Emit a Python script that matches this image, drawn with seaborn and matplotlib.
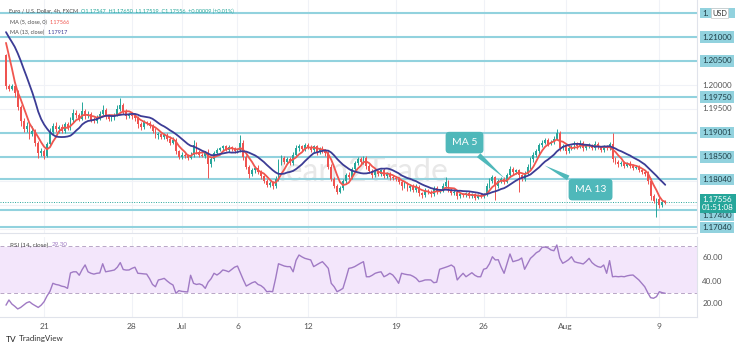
import numpy as np
import pandas as pd
import matplotlib
matplotlib.use("Agg")
import matplotlib.pyplot as plt
import matplotlib.transforms as mtransforms
from matplotlib.patches import Rectangle
import seaborn as sns

# ---------------- data (EUR/USD 4h) ----------------
pre_closes = [1.2172, 1.2165, 1.2178, 1.2170, 1.2160, 1.2150,
              1.2115, 1.2108, 1.2120, 1.2125, 1.2118, 1.2122,
              1.2130, 1.2125, 1.2118, 1.2128, 1.2122, 1.2126,
              1.2124, 1.2120, 1.2125, 1.2128, 1.2126, 1.2062]

closes = [
    1.1998,
    1.1992, 1.1997, 1.1984, 1.1955, 1.1925, 1.1908,   # Jun 17
    1.1915, 1.1898, 1.1905, 1.1880, 1.1858, 1.1862,   # Jun 18
    1.1852, 1.1878, 1.1902, 1.1915, 1.1908, 1.1912,   # Jun 21
    1.1905, 1.1918, 1.1910, 1.1928, 1.1942, 1.1938,   # Jun 22
    1.1930, 1.1945, 1.1935, 1.1940, 1.1928, 1.1925,   # Jun 23
    1.1932, 1.1940, 1.1948, 1.1935, 1.1930, 1.1933,   # Jun 24
    1.1938, 1.1950, 1.1958, 1.1945, 1.1935, 1.1938,   # Jun 25
    1.1935, 1.1932, 1.1918, 1.1912, 1.1922, 1.1920,   # Jun 28
    1.1915, 1.1905, 1.1895, 1.1898, 1.1892, 1.1895,   # Jun 29
    1.1888, 1.1880, 1.1885, 1.1862, 1.1850, 1.1855,   # Jun 30
    1.1852, 1.1848, 1.1855, 1.1875, 1.1860, 1.1855,   # Jul 1
    1.1852, 1.1858, 1.1835, 1.1845, 1.1858, 1.1865,   # Jul 2
    1.1868, 1.1872, 1.1865, 1.1870, 1.1866, 1.1862,   # Jul 5
    1.1865, 1.1880, 1.1850, 1.1830, 1.1815, 1.1822,   # Jul 6
    1.1828, 1.1818, 1.1810, 1.1800, 1.1792, 1.1795,   # Jul 7
    1.1790, 1.1805, 1.1838, 1.1848, 1.1840, 1.1845,   # Jul 8
    1.1838, 1.1855, 1.1868, 1.1872, 1.1866, 1.1875,   # Jul 9
    1.1870, 1.1865, 1.1872, 1.1860, 1.1868, 1.1862,   # Jul 12
    1.1858, 1.1830, 1.1805, 1.1790, 1.1778, 1.1785,   # Jul 13
    1.1800, 1.1812, 1.1808, 1.1825, 1.1838, 1.1845,   # Jul 14
    1.1840, 1.1848, 1.1832, 1.1820, 1.1812, 1.1818,   # Jul 15
    1.1815, 1.1822, 1.1810, 1.1815, 1.1808, 1.1806,   # Jul 16
    1.1805, 1.1798, 1.1790, 1.1795, 1.1785, 1.1790,   # Jul 19
    1.1782, 1.1788, 1.1775, 1.1770, 1.1780, 1.1778,   # Jul 20
    1.1772, 1.1785, 1.1778, 1.1780, 1.1790, 1.1798,   # Jul 21
    1.1782, 1.1775, 1.1778, 1.1768, 1.1772, 1.1770,   # Jul 22
    1.1775, 1.1768, 1.1772, 1.1765, 1.1770, 1.1768,   # Jul 23
    1.1772, 1.1790, 1.1800, 1.1808, 1.1790, 1.1800,   # Jul 26
    1.1805, 1.1798, 1.1812, 1.1825, 1.1818, 1.1822,   # Jul 27
    1.1812, 1.1805, 1.1815, 1.1830, 1.1845, 1.1855,   # Jul 28
    1.1862, 1.1875, 1.1880, 1.1885, 1.1878, 1.1882,   # Jul 29
    1.1888, 1.1900, 1.1868, 1.1872, 1.1862, 1.1868,   # Jul 30
    1.1870, 1.1878, 1.1872, 1.1880, 1.1868, 1.1872,   # Aug 2
    1.1875, 1.1868, 1.1878, 1.1870, 1.1865, 1.1872,   # Aug 3
    1.1868, 1.1878, 1.1845, 1.1840, 1.1835, 1.1838,   # Aug 4
    1.1832, 1.1836, 1.1832, 1.1828, 1.1830, 1.1822,   # Aug 5
    1.1818, 1.1815, 1.1800, 1.1768, 1.1759, 1.1762,   # Aug 6
    1.1750, 1.1757, 1.17556,                          # Aug 9
]

upper_wick_pips = [
    3,
    4, 6, 3, 5, 4, 6,   8, 5, 9, 4, 3, 6,   5, 4, 8, 6, 7, 5,   6, 4, 5, 6, 8, 5,
    4, 20, 6, 5, 4, 5,  6, 5, 10, 4, 5, 3,  4, 8, 15, 5, 4, 3,  4, 5, 3, 4, 6, 3,
    5, 4, 6, 5, 3, 4,   4, 5, 6, 4, 3, 5,   3, 4, 5, 10, 6, 4,  4, 5, 8, 6, 5, 4,
    3, 4, 3, 4, 3, 4,   4, 16, 5, 4, 3, 5,  4, 5, 4, 3, 5, 4,   5, 6, 8, 6, 5, 4,
    4, 5, 8, 6, 4, 5,   4, 5, 3, 4, 3, 4,   4, 5, 6, 4, 3, 5,   5, 4, 6, 5, 4, 6,
    4, 5, 4, 3, 5, 4,   4, 3, 5, 4, 3, 4,   4, 3, 5, 4, 3, 4,   4, 5, 4, 3, 5, 4,
    4, 5, 4, 3, 5, 10,  4, 3, 5, 4, 3, 4,   3, 4, 3, 4, 3, 4,   4, 5, 6, 5, 3, 4,
    4, 3, 5, 6, 4, 3,   4, 3, 5, 6, 4, 5,   5, 4, 6, 4, 5, 3,   5, 8, 4, 5, 3, 4,
    4, 5, 4, 6, 3, 4,   4, 3, 5, 4, 3, 4,   3, 4, 22, 4, 3, 4,  4, 3, 5, 4, 3, 4,
    4, 3, 5, 6, 4, 3,   5, 4, 3,
]

lower_wick_pips = [
    6,
    5, 3, 8, 7, 10, 6,  6, 10, 5, 8, 11, 5, 6, 3, 5, 4, 6, 7,   5, 6, 4, 3, 5, 6,
    5, 3, 6, 4, 5, 4,   4, 5, 3, 6, 4, 5,   5, 3, 4, 6, 5, 4,   5, 6, 8, 5, 4, 3,
    4, 6, 5, 8, 4, 5,   5, 4, 3, 6, 5, 4,   5, 4, 3, 5, 4, 6,   3, 5, 29, 6, 4, 3,
    3, 4, 3, 4, 3, 3,   4, 5, 6, 5, 8, 4,   5, 4, 6, 5, 5, 4,   6, 4, 5, 4, 5, 4,
    5, 4, 3, 5, 4, 3,   4, 5, 4, 5, 4, 3,   5, 6, 5, 4, 6, 4,   4, 5, 4, 3, 5, 4,
    4, 5, 6, 4, 5, 4,   4, 5, 4, 3, 5, 4,   5, 4, 8, 4, 6, 5,   5, 4, 6, 5, 4, 5,
    5, 4, 5, 4, 3, 4,   4, 5, 4, 5, 4, 3,   4, 3, 4, 4, 3, 4,   3, 4, 5, 4, 30, 4,
    4, 5, 3, 4, 5, 4,   35, 5, 4, 3, 4, 5,  4, 5, 4, 3, 5, 4,   4, 3, 6, 4, 5, 4,
    4, 3, 5, 4, 5, 3,   3, 4, 3, 4, 5, 4,   4, 3, 5, 4, 5, 3,   4, 3, 4, 5, 3, 4,
    4, 5, 6, 8, 5, 34,  6, 4, 3,
]

# RSI(14, close), one value per candle
rsi_values = [
    19.0,
    23.5, 20.0, 18.0, 15.7, 17.0, 19.0,   21.0, 22.0, 20.0, 18.5, 17.0, 19.0,
    22.0, 27.0, 31.0, 38.0, 37.0, 36.5,   35.5, 35.0, 33.6, 47.0, 48.0, 48.0,
    45.0, 50.0, 54.0, 48.0, 46.7, 46.0,   46.7, 47.0, 55.0, 48.0, 48.5, 49.0,
    49.6, 52.0, 56.0, 50.0, 49.5, 49.6,   51.0, 52.0, 46.7, 46.5, 46.2, 46.0,
    42.0, 37.0, 35.0, 40.9, 41.5, 42.3,   40.0, 38.0, 36.5, 29.3, 31.6, 31.0,
    30.7, 30.5, 45.0, 38.0, 37.0, 37.5,   36.5, 33.6, 39.0, 42.0, 46.7, 45.2,
    47.0, 49.6, 49.0, 48.0, 50.0, 52.0,   53.0, 47.0, 41.0, 35.6, 37.0, 38.5,
    39.4, 37.0, 36.0, 34.0, 30.7, 31.0,   30.7, 42.0, 55.0, 54.0, 53.0, 52.5,
    52.5, 48.0, 58.0, 62.6, 61.0, 59.7,   59.0, 58.3, 52.5, 54.0, 55.5, 56.8,
    54.0, 51.0, 38.0, 35.0, 30.7, 32.0,   33.6, 42.0, 51.0, 51.5, 52.5, 54.0,
    55.5, 56.8, 43.7, 43.7, 45.0, 46.7,   47.5, 48.0, 43.7, 45.0, 46.7, 45.2,
    42.0, 38.0, 46.7, 46.0, 45.5, 45.2,   44.0, 42.3, 39.4, 40.0, 40.9, 41.0,
    40.9, 38.5, 39.0, 50.2, 51.0, 51.9,   52.8, 53.9, 52.0, 40.9, 44.0, 46.7,
    43.7, 45.5, 47.2, 45.0, 43.7, 43.7,   50.2, 51.0, 55.0, 61.1, 58.3, 58.5,
    52.0, 46.7, 55.0, 63.5, 56.8, 57.5,   58.3, 60.0, 50.2, 55.0, 59.7, 62.0,
    64.6, 66.0, 69.3, 69.5, 68.8, 67.0,   66.3, 71.3, 60.0, 55.4, 56.8, 58.5,
    61.1, 56.8, 56.0, 55.5, 54.8, 57.0,   59.7, 56.0, 53.9, 52.5, 51.9, 53.9,
    46.7, 57.7, 43.7, 44.0, 43.7, 44.0,   43.7, 44.5, 45.0, 45.2, 43.0, 40.9,
    38.0, 35.0, 30.0, 25.5, 25.0, 26.4,   30.7, 29.8, 29.3,
]

tick_pos = [13, 43, 60, 79, 103, 133, 163, 191, 223]
tick_labels = ["21", "28", "Jul", "6", "12", "19", "26", "Aug", "9"]

level_prices = [1.21000, 1.20500, 1.19750, 1.19001, 1.18500, 1.18040, 1.17400, 1.17040]
level_labels = ["1.21000", "1.20500", "1.19750", "1.19001", "1.18500", "1.18040", "1.17400", "1.17040"]
top_level = 1.21500
axis_price_ticks = [1.20000, 1.19500]
axis_price_labels = ["1.20000", "1.19500"]
rsi_ticks = [60, 40, 20]
rsi_tick_labels = ["60.00", "40.00", "20.00"]
last_price = 1.17556
countdown = "01:51:08"

# ---------------- derived series ----------------
n_pre = len(pre_closes)
all_close = pd.Series(pre_closes + closes)
ma5 = all_close.rolling(5).mean().iloc[n_pre:].to_numpy()
ma13 = all_close.rolling(13).mean().iloc[n_pre:].to_numpy()

c = np.array(closes)
o = np.array([pre_closes[-1]] + closes[:-1])
hi = np.maximum(o, c) + np.array(upper_wick_pips) * 1e-4
lo = np.minimum(o, c) - np.array(lower_wick_pips) * 1e-4
idx = np.arange(len(c))
df = pd.DataFrame({"i": idx, "close": c, "ma5": ma5, "ma13": ma13, "rsi": rsi_values})

# ---------------- style ----------------
sns.set_theme(style="white")
plt.rcParams["font.family"] = ["Lato", "DejaVu Sans"]

UP = "#26a69a"
DOWN = "#ef5350"
LEVEL = "#92d2de"
GRID = "#f0f2f7"
TXT = "#4a4a4a"
MA5C = "#f0564f"
MA13C = "#3c3c95"
RSIC = "#a07ac4"

W, H = 740, 352
fig = plt.figure(figsize=(W / 100, H / 100), dpi=100)
fig.patch.set_facecolor("white")

x_left = -6 / 2.93
x_right = (697 - 6) / 2.93

ax_p = fig.add_axes([0, 1 - 233 / H, 697 / W, 233 / H])
ax_r = fig.add_axes([0, 1 - 317 / H, 697 / W, 80 / H])

p_top = 1.21 + 37 / 4800
p_bot = 1.21 - 196 / 4800

# ---- price panel ----
ax = ax_p
ax.set_xlim(x_left, x_right)
ax.set_ylim(p_bot, p_top)
for t in tick_pos:
    ax.axvline(t, color=GRID, lw=0.8, zorder=0)
for g in np.arange(1.170, 1.2176, 0.005):
    ax.axhline(g, color=GRID, lw=0.8, zorder=0)

ax.text(122, 1.1818, "learn2Trade", fontsize=23, color="#e8e8e8",
        ha="center", va="center", zorder=1)

for p in level_prices + [top_level]:
    ax.axhline(p, color=LEVEL, lw=1.5, zorder=2)
ax.axhline(last_price, color=UP, lw=0.7, ls=(0, (1, 1.5)), zorder=2)

colors = np.where(c >= o, UP, DOWN)
ax.vlines(idx, lo, hi, colors=colors, lw=0.7, zorder=3)
body = np.where(np.abs(c - o) < 0.00004, 0.00004, c - o)
ax.bar(idx, body, bottom=o, width=0.62, color=colors, linewidth=0, zorder=4)

sns.lineplot(data=df, x="i", y="ma5", color=MA5C, lw=1.3, ax=ax, zorder=5)
sns.lineplot(data=df, x="i", y="ma13", color=MA13C, lw=1.3, ax=ax, zorder=5)

# callouts
box_c = "#4fb8ba"
i5 = 171
ax.annotate("MA 5", xy=(i5, ma5[i5]), xytext=(156.5, 1.1880),
            color="white", fontsize=7.5, ha="center", va="center", zorder=7,
            bbox=dict(boxstyle="round,pad=0.6,rounding_size=0.35", fc=box_c, ec="none"),
            arrowprops=dict(arrowstyle="wedge,tail_width=0.5,shrink_factor=0.5", fc=box_c, ec="none"))
i13 = 183
ax.annotate("MA 13", xy=(i13, ma13[i13]), xytext=(199.5, 1.1782),
            color="white", fontsize=7.5, ha="center", va="center", zorder=7,
            bbox=dict(boxstyle="round,pad=0.6,rounding_size=0.35", fc=box_c, ec="none"),
            arrowprops=dict(arrowstyle="wedge,tail_width=0.5,shrink_factor=0.5", fc=box_c, ec="none"))

ax.set_xticks([])
ax.set_yticks([])
ax.set_xlabel("")
ax.set_ylabel("")
for s in ["top", "left"]:
    ax.spines[s].set_visible(False)
for s in ["right", "bottom"]:
    ax.spines[s].set_color("#e0e3eb")
    ax.spines[s].set_linewidth(0.8)

trans = mtransforms.blended_transform_factory(ax.transAxes, ax.transData)
for p, lab in zip(level_prices, level_labels):
    yy = p
    if lab == "1.17400":
        yy = 1.1728
    if lab == "1.17040":
        yy = 1.17025
    ax.text(1.0075, yy, lab, transform=trans, fontsize=5.8, color="#1f3f48",
            ha="left", va="center", clip_on=False,
            bbox=dict(boxstyle="square,pad=0.25", fc=LEVEL, ec="none"))
for p, lab in zip(axis_price_ticks, axis_price_labels):
    ax.text(1.0075, p, lab, transform=trans, fontsize=5.8, color="#555555",
            ha="left", va="center", clip_on=False)
ax.text(1.0075, last_price - 0.0003, "1.17556\n" + countdown, transform=trans,
        fontsize=5.8, color="white", ha="left", va="center", clip_on=False,
        linespacing=1.15,
        bbox=dict(boxstyle="square,pad=0.25", fc=UP, ec="none"))

# top level label partly covered by the currency tag
fig.add_artist(Rectangle((700 / W, 1 - 18 / H), 35 / W, 10 / H,
                         transform=fig.transFigure, fc=LEVEL, ec="none"))
fig.text(702 / W, 1 - 13 / H, "1.", fontsize=5.8, color="#1f3f48", va="center", ha="left")
fig.text(712 / W, 1 - 13 / H, "USD", fontsize=5.3, color="#333333", va="center", ha="left",
         bbox=dict(boxstyle="square,pad=0.2", fc="white", ec="#c8c8c8", lw=0.5))

# ---- RSI panel ----
ax = ax_r
ax.set_xlim(x_left, x_right)
ax.set_ylim(30 - 24.5 * 40 / 46, 70 + 9.5 * 40 / 46)
for t in tick_pos:
    ax.axvline(t, color=GRID, lw=0.8, zorder=0)
ax.axhspan(30, 70, color="#f3e6fb", lw=0, zorder=1)
ax.axhline(70, color="#b8a6c6", lw=0.7, ls=(0, (4, 3)), zorder=2)
ax.axhline(30, color="#b8a6c6", lw=0.7, ls=(0, (4, 3)), zorder=2)
sns.lineplot(data=df, x="i", y="rsi", color=RSIC, lw=1.0, ax=ax, zorder=3)
ax.set_xticks(tick_pos)
ax.set_xticklabels(tick_labels, fontsize=6, color="#555555")
ax.tick_params(axis="x", length=0, pad=4)
ax.set_yticks([])
ax.set_xlabel("")
ax.set_ylabel("")
for s in ["top", "left"]:
    ax.spines[s].set_visible(False)
for s in ["right", "bottom"]:
    ax.spines[s].set_color("#e0e3eb")
    ax.spines[s].set_linewidth(0.8)
rtrans = mtransforms.blended_transform_factory(ax.transAxes, ax.transData)
for v, lab in zip(rsi_ticks, rsi_tick_labels):
    ax.text(1.0075, v, lab, transform=rtrans,
            fontsize=5.8, color="#555555", ha="left", va="center", clip_on=False)

# ---- legend texts (placed one after another) ----
fig.canvas.draw()
renderer = fig.canvas.get_renderer()


def text_row(x, y, parts, size):
    for s, col in parts:
        t = fig.text(x / W, 1 - y / H, s, va="center", ha="left", fontsize=size, color=col)
        bb = t.get_window_extent(renderer=renderer)
        x = bb.x1 + 3


text_row(9, 11, [("Euro / U.S. Dollar, 4h, FXCM", TXT),
                 ("O1.17547  H1.17650  L1.17519  C1.17556  +0.00009 (+0.01%)", UP)], 4.0)
text_row(10, 22, [("MA (5, close, 0)", TXT), ("1.17566", MA5C)], 4.0)
text_row(10, 32, [("MA (13, close)", TXT), ("1.17917", MA13C)], 4.0)
text_row(10, 245, [("RSI (14, close)", TXT), ("29.30", RSIC)], 4.5)
text_row(6, 339, [("TV", "#222222")], 6)
fig.text(19 / W, 1 - 339 / H, "TradingView", fontsize=5.8, color="#333333", va="center", ha="left")

fig.savefig("out.png", dpi=100, facecolor="white")
